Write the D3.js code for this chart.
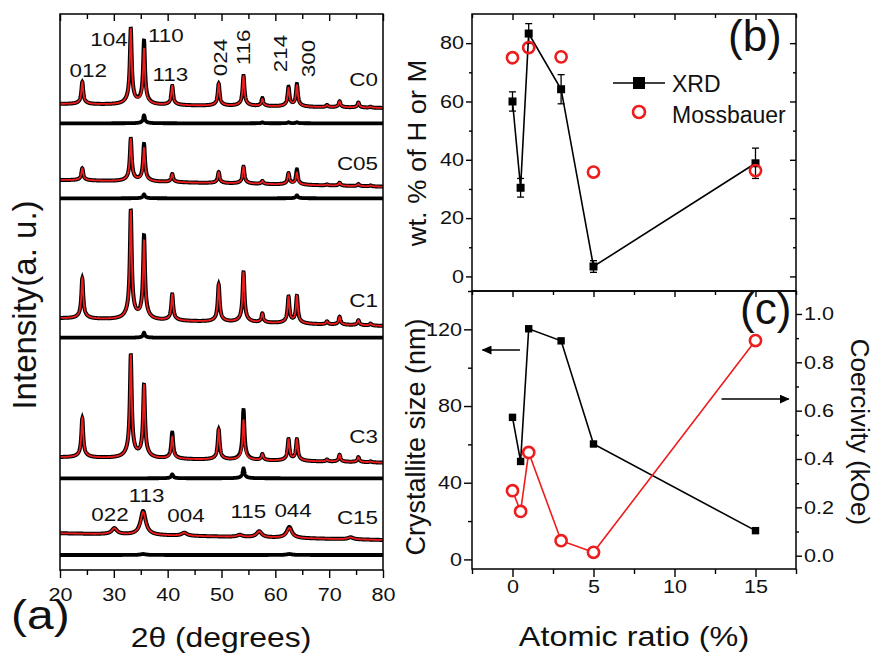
<!DOCTYPE html>
<html lang="en">
<head>
<meta charset="UTF-8">
<title>XRD patterns, phase fraction and coercivity</title>
<script src="https://d3js.org/d3.v7.min.js"></script>
<style>
  body, html { margin: 0; background: #fff; }
  svg { display: block; font-family: Arial, "Liberation Sans", sans-serif; }
  .frame { fill: none; stroke: #000; stroke-width: 1.5; }
  .axis path { display: none; }
  .axis line { stroke: #000; stroke-width: 1.4; }
  .axis text { font-size: 18px; fill: #111; }
</style>
</head>
<body>
<svg id="fig" width="877" height="655"></svg>
<script>
// ---------- panel (a): XRD patterns ----------
const samples = ["C0", "C05", "C1", "C3", "C15"];
const hematitePeaks = [24.14, 33.15, 35.61, 40.85, 49.48, 54.09, 57.59, 62.45, 64.01, 69.6, 71.94, 75.43, 77.7];
const magnetitePeaks = [30.1, 35.45, 43.1, 53.4, 57.0, 62.6, 74.0];

// peak heights (a.u.), fit = red curve, obs = black data
const fitC0  = [22, 75, 55, 19, 22, 30, 7, 18, 21, 2, 6, 5, 1];
const obsC0  = [22, 75, 63, 19, 22, 30, 8, 19, 22, 2, 6, 5, 1];
const fitC05 = [12, 42, 33, 8, 11, 17, 3, 11, 12, 1, 3, 2, 1];
const obsC05 = [12, 42, 37, 8, 11, 17, 3, 11, 15, 1, 3, 2, 1];
const fitC1  = [40, 108, 78, 26, 37, 50, 9, 26, 27, 3, 8, 5, 2];
const obsC1  = [40, 108, 83, 26, 37, 50, 9, 26, 27, 3, 8, 5, 2];
const fitC3  = [39, 102, 72, 22, 30, 40, 6, 21, 21, 2, 7, 5, 1];
const obsC3  = [39, 102, 72, 26, 30, 50, 6, 21, 21, 2, 7, 5, 1];
const fitC15 = [6, 23, 3, 2, 6, 10, 2];
const obsC15 = [6, 24, 3, 2, 6, 11, 2];

const baseLeft   = [466, 390, 251.7, 112.7, 36.7];
const baseRight  = [462, 383.3, 244, 107.3, 30];
const residLevel = [446.7, 371.7, 232.3, 91.7, 15];
const peakWidth  = [0.2, 0.2, 0.2, 0.2, 0.55];

const hklC0 = ["012", "104", "110", "113", "024", "116", "214", "300"];
const hklC15 = ["022", "113", "004", "115", "044"];

// ---------- panels (b) and (c) ----------
const ratio = [0, 0.5, 1, 3, 5, 15];
const wtXRD = [60, 30.4, 83.3, 64.2, 3.4, 38.8];
const wtXRDErr = [3.3, 3.2, 3.4, 5, 2, 5.2];
const ratioMoss = [0, 1, 3, 5, 15];
const wtMoss = [75, 78.5, 75.3, 35.8, 36.3];
const crystSize = [74.1, 51.1, 120.3, 114, 60.2, 15.0];
const coercivity = [0.269, 0.183, 0.427, 0.062, 0.014, 0.89];

const RED = "#ee1c1c";
const svg = d3.select("#fig");

// text helper: many labels in the figure are a little wider than plain Arial
function txt(g, s, x, y, size, opt = {}) {
  return g.append("text")
    .attr("transform", `translate(${x},${y}) rotate(${opt.rot || 0}) scale(${opt.sx || 1},1)`)
    .attr("font-size", size)
    .attr("text-anchor", opt.anchor || "start")
    .attr("fill", "#111")
    .text(s);
}

function styleTicks(g, sx, dx) {
  g.selectAll("text").each(function () {
    const t = d3.select(this);
    const x0 = +t.attr("x") || 0;
    t.attr("x", (x0 + (dx || 0)) / sx).attr("transform", `scale(${sx},1)`);
  });
}

// ===== (a) =====
const ax = d3.scaleLinear().domain([20, 80]).range([60, 383]);
const ay = d3.scaleLinear().domain([0, 556]).range([570, 14]);
const grid = d3.range(20, 80.001, 0.02);

function profile(pos, h, w, b0, b1) {
  const w2 = Math.max(0.9, 2 * w);
  return grid.map(t => {
    let v = b0 + (b1 - b0) * (t - 20) / 60;
    pos.forEach((p, i) => {
      const d = t - p;
      v += h[i] * (0.9 * w * w / (d * d + w * w) + 0.1 * w2 * w2 / (d * d + w2 * w2));
    });
    return [t, v];
  });
}

const fits = [fitC0, fitC05, fitC1, fitC3, fitC15];
const obss = [obsC0, obsC05, obsC1, obsC3, obsC15];
const line = d3.line().x(d => ax(d[0])).y(d => ay(d[1]));
const ga = svg.append("g");

samples.forEach((s, i) => {
  const pos = i === 4 ? magnetitePeaks : hematitePeaks;
  const fit = profile(pos, fits[i], peakWidth[i], baseLeft[i], baseRight[i]);
  const obs = profile(pos, obss[i], peakWidth[i], baseLeft[i], baseRight[i]);
  const resid = obs.map((d, k) => [d[0], residLevel[i] + d[1] - fit[k][1]]);
  ga.append("path").attr("d", line(obs)).attr("fill", "none")
    .attr("stroke", "#000").attr("stroke-width", 4);
  ga.append("path").attr("d", line(fit)).attr("fill", "none")
    .attr("stroke", RED).attr("stroke-width", 1.8);
  ga.append("path").attr("d", line(resid)).attr("fill", "none")
    .attr("stroke", "#000").attr("stroke-width", 3.8);
});

// sample names and hkl labels
const nameY = [484, 400, 263.3, 126.7, 46];
samples.forEach((s, i) => txt(ga, s, ax(79.07), ay(nameY[i]), 19, { anchor: "end", sx: 1.18 }));

const hklC0Pos = [[25.26, 492.7, 0], [29.1, 524.3, 0], [39.65, 527.7, 0], [40.5, 489.3, 0],
                  [51.0, 512.5, 1], [55.3, 522.5, 1], [62.1, 516.5, 1], [67.4, 511.5, 1]];
hklC0.forEach((h, i) => {
  const p = hklC0Pos[i];
  if (p[2]) txt(ga, h, ax(p[0]), ay(p[1]), 19, { anchor: "middle", rot: -90, sx: 1.18 });
  else txt(ga, h, ax(p[0]), ay(p[1]), 19, { anchor: "middle", sx: 1.18 });
});
const hklC15Pos = [[29.3, 49.3], [36.1, 68.3], [43.4, 48.3], [55.0, 51.7], [63.3, 52.7]];
hklC15.forEach((h, i) => txt(ga, h, ax(hklC15Pos[i][0]), ay(hklC15Pos[i][1]), 19, { anchor: "middle", sx: 1.18 }));

// axes (a)
const aTicks = d3.range(20, 81, 10), aMinor = d3.range(25, 80, 10);
let g = svg.append("g").attr("class", "axis").attr("transform", "translate(0,570)")
  .call(d3.axisBottom(ax).tickValues(aTicks).tickSize(8).tickPadding(10).tickFormat(d3.format("d")));
styleTicks(g, 1.2);
svg.append("g").attr("class", "axis").attr("transform", "translate(0,570)")
  .call(d3.axisBottom(ax).tickValues(aMinor).tickSize(5).tickFormat(""));
svg.append("g").attr("class", "axis").attr("transform", "translate(0,14)")
  .call(d3.axisTop(ax).tickValues(aTicks).tickSize(-7).tickFormat(""));
svg.append("g").attr("class", "axis").attr("transform", "translate(0,14)")
  .call(d3.axisTop(ax).tickValues(aMinor).tickSize(-5).tickFormat(""));
svg.append("rect").attr("class", "frame").attr("x", 60).attr("y", 14).attr("width", 323).attr("height", 556);

txt(svg, "Intensity(a. u.)", 36, 305, 33, { anchor: "middle", rot: -90 });
txt(svg, "2\u03b8 (degrees)", 221, 647, 27, { anchor: "middle", sx: 1.18 });
txt(svg, "(a)", 11, 629, 40, { sx: 1.2 });

// ===== (b) =====
const bx = d3.scaleLinear().domain([-2.5, 17.5]).range([472, 796]);
const by = d3.scaleLinear().domain([-5, 90]).range([291, 14]);
const xMajor = [0, 5, 10, 15], xMinor = [-2.5, 2.5, 7.5, 12.5, 17.5];

g = svg.append("g").attr("class", "axis").attr("transform", "translate(472,0)")
  .call(d3.axisLeft(by).tickValues(d3.range(0, 81, 20)).tickSize(6).tickPadding(2));
styleTicks(g, 1.2);
svg.append("g").attr("class", "axis").attr("transform", "translate(472,0)")
  .call(d3.axisLeft(by).tickValues(d3.range(10, 90, 20)).tickSize(3).tickFormat(""));
svg.append("g").attr("class", "axis").attr("transform", "translate(796,0)")
  .call(d3.axisRight(by).tickValues(d3.range(0, 81, 20)).tickSize(-6).tickFormat(""));
svg.append("g").attr("class", "axis").attr("transform", "translate(796,0)")
  .call(d3.axisRight(by).tickValues(d3.range(10, 90, 20)).tickSize(-3).tickFormat(""));
svg.append("g").attr("class", "axis").attr("transform", "translate(0,14)")
  .call(d3.axisTop(bx).tickValues(xMajor).tickSize(-6).tickFormat(""));
svg.append("g").attr("class", "axis").attr("transform", "translate(0,14)")
  .call(d3.axisTop(bx).tickValues(xMinor).tickSize(-4).tickFormat(""));

const gb = svg.append("g");
gb.append("path")
  .attr("d", d3.line().x((d, i) => bx(ratio[i])).y(d => by(d))(wtXRD))
  .attr("fill", "none").attr("stroke", "#000").attr("stroke-width", 1.6);
ratio.forEach((r, i) => {
  const x = bx(r), y0 = by(wtXRD[i] - wtXRDErr[i]), y1 = by(wtXRD[i] + wtXRDErr[i]);
  gb.append("line").attr("x1", x).attr("x2", x).attr("y1", y0).attr("y2", y1)
    .attr("stroke", "#000").attr("stroke-width", 1.3);
  [y0, y1].forEach(yy => gb.append("line").attr("x1", x - 3.5).attr("x2", x + 3.5)
    .attr("y1", yy).attr("y2", yy).attr("stroke", "#000").attr("stroke-width", 1.3));
});
gb.selectAll("rect.sq").data(wtXRD).join("rect")
  .attr("x", (d, i) => bx(ratio[i]) - 4).attr("y", d => by(d) - 4)
  .attr("width", 8).attr("height", 8).attr("fill", "#000");
gb.selectAll("circle").data(wtMoss).join("circle")
  .attr("cx", (d, i) => bx(ratioMoss[i])).attr("cy", d => by(d)).attr("r", 5.6)
  .attr("fill", "none").attr("stroke", RED).attr("stroke-width", 2.6);

// legend
gb.append("line").attr("x1", 613).attr("x2", 665).attr("y1", 83).attr("y2", 83)
  .attr("stroke", "#000").attr("stroke-width", 1.6);
gb.append("rect").attr("x", 633).attr("y", 77).attr("width", 12).attr("height", 12).attr("fill", "#000");
gb.append("circle").attr("cx", 639).attr("cy", 112).attr("r", 6)
  .attr("fill", "none").attr("stroke", RED).attr("stroke-width", 2.6);
txt(gb, "XRD", 672, 92, 23);
txt(gb, "Mossbauer", 672, 123, 23);
txt(gb, "(b)", 728, 51, 44);

svg.append("rect").attr("class", "frame").attr("x", 472).attr("y", 14).attr("width", 324).attr("height", 277);
txt(svg, "wt. % of H or M", 426, 153, 26, { anchor: "middle", rot: -90, sx: 1.05 });

// ===== (c) =====
const cyL = d3.scaleLinear().domain([-5, 140]).range([569, 291]);
const cyR = d3.scaleLinear().domain([-0.055, 1.095]).range([569, 291]);

g = svg.append("g").attr("class", "axis").attr("transform", "translate(0,569)")
  .call(d3.axisBottom(bx).tickValues(xMajor).tickSize(8).tickPadding(3));
styleTicks(g, 1.2);
svg.append("g").attr("class", "axis").attr("transform", "translate(0,569)")
  .call(d3.axisBottom(bx).tickValues(xMinor).tickSize(5).tickFormat(""));
svg.append("g").attr("class", "axis").attr("transform", "translate(0,291)")
  .call(d3.axisTop(bx).tickValues(xMajor).tickSize(-6).tickFormat(""));
svg.append("g").attr("class", "axis").attr("transform", "translate(0,291)")
  .call(d3.axisTop(bx).tickValues(xMinor).tickSize(-4).tickFormat(""));
g = svg.append("g").attr("class", "axis").attr("transform", "translate(472,0)")
  .call(d3.axisLeft(cyL).tickValues([0, 40, 80, 120]).tickSize(8).tickPadding(2));
styleTicks(g, 1.2);
svg.append("g").attr("class", "axis").attr("transform", "translate(472,0)")
  .call(d3.axisLeft(cyL).tickValues([20, 60, 100, 140]).tickSize(4).tickFormat(""));
g = svg.append("g").attr("class", "axis").attr("transform", "translate(796,0)")
  .call(d3.axisRight(cyR).tickValues(d3.range(0, 1.01, 0.2)).tickSize(6).tickPadding(2)
    .tickFormat(d3.format(".1f")));
styleTicks(g, 1.2);
svg.append("g").attr("class", "axis").attr("transform", "translate(796,0)")
  .call(d3.axisRight(cyR).tickValues(d3.range(0.1, 1.01, 0.2)).tickSize(3).tickFormat(""));

const gc = svg.append("g");
gc.append("path")
  .attr("d", d3.line().x((d, i) => bx(ratio[i])).y(d => cyL(d))(crystSize))
  .attr("fill", "none").attr("stroke", "#000").attr("stroke-width", 1.6);
gc.selectAll("rect").data(crystSize).join("rect")
  .attr("x", (d, i) => bx(ratio[i]) - 3.7).attr("y", d => cyL(d) - 3.7)
  .attr("width", 7.4).attr("height", 7.4).attr("fill", "#000");
gc.append("path")
  .attr("d", d3.line().x((d, i) => bx(ratio[i])).y(d => cyR(d))(coercivity))
  .attr("fill", "none").attr("stroke", RED).attr("stroke-width", 1.6);
gc.selectAll("circle").data(coercivity).join("circle")
  .attr("cx", (d, i) => bx(ratio[i])).attr("cy", d => cyR(d)).attr("r", 5.6)
  .attr("fill", "#fff").attr("stroke", RED).attr("stroke-width", 2.6);

// arrows pointing to the axes
svg.append("defs").append("marker").attr("id", "arr")
  .attr("viewBox", "0 0 10 9").attr("refX", 9).attr("refY", 4.5)
  .attr("markerWidth", 10).attr("markerHeight", 9).attr("markerUnits", "userSpaceOnUse")
  .attr("orient", "auto")
  .append("path").attr("d", "M0,0L10,4.5L0,9Z").attr("fill", "#000");
gc.append("line").attr("x1", bx(0.46)).attr("x2", bx(-1.85)).attr("y1", cyL(109.2)).attr("y2", cyL(109.2))
  .attr("stroke", "#000").attr("stroke-width", 1.4).attr("marker-end", "url(#arr)");
gc.append("line").attr("x1", bx(12.9)).attr("x2", bx(17.05)).attr("y1", cyR(0.648)).attr("y2", cyR(0.648))
  .attr("stroke", "#000").attr("stroke-width", 1.4).attr("marker-end", "url(#arr)");

txt(gc, "(c)", 740, 324, 44);
svg.append("rect").attr("class", "frame").attr("x", 472).attr("y", 291).attr("width", 324).attr("height", 278);

txt(svg, "Crystallite size (nm)", 425, 437, 27, { anchor: "middle", rot: -90 });
txt(svg, "Coercivity (kOe)", 851, 432, 26, { anchor: "middle", rot: 90 });
txt(svg, "Atomic ratio (%)", 634, 646, 27, { anchor: "middle", sx: 1.2 });
</script>
</body>
</html>
